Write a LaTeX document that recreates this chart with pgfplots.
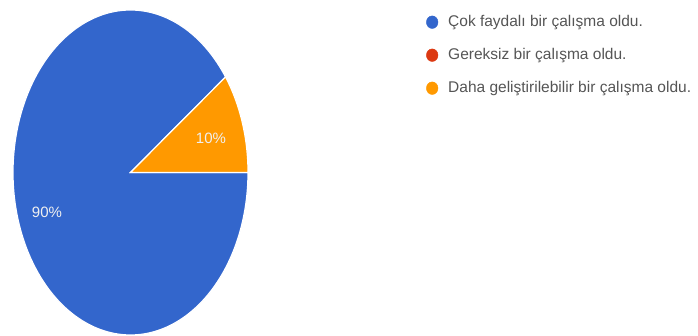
\documentclass[border=0pt]{standalone}
\usepackage{fontspec}
\setmainfont{Liberation Sans}
\usepackage{pgfplots}
\pgfplotsset{compat=1.18}
\definecolor{cblue}{HTML}{3366CC}
\definecolor{cred}{HTML}{DC3912}
\definecolor{corange}{HTML}{FF9900}
\definecolor{ctext}{HTML}{555555}
% shares in percent
\def\vA{90}% Çok faydalı
\def\vB{0}% Gereksiz
\def\vC{10}% Daha geliştirilebilir
\begin{document}
\begin{tikzpicture}
\begin{axis}[
  width=698pt, height=336pt, scale only axis,
  xmin=0, xmax=698, ymin=0, ymax=336,
  hide axis, clip=false,
  legend cell align=left,
  legend style={at={(axis cs:426,321)}, anchor=north west, draw=none, fill=none,
    font=\fontsize{15.5}{18}\selectfont\color{ctext},
    row sep=19pt, inner sep=0pt,
    nodes={inner sep=0pt, text height=11.5pt, text depth=2.5pt},
    /tikz/every odd column/.style={column sep=10pt}},
  legend image code/.code={\fill[#1] (6pt,0pt) ellipse [x radius=5.8pt, y radius=6.3pt];},
]
\addlegendimage{cblue}
\addlegendentry{Çok faydalı bir çalışma oldu.}
\addlegendimage{cred}
\addlegendentry{Gereksiz bir çalışma oldu.}
\addlegendimage{corange}
\addlegendentry{Daha geliştirilebilir bir çalışma oldu.}
% blue wedge
\addplot[fill=cblue, draw=white, line width=1.2pt, domain={3.6*\vC}:360, samples=200, variable=\t, forget plot]
  ({130.5+117.5*cos(t)},{163.5+162.5*sin(t)}) -- (axis cs:130.5,163.5) -- cycle;
% orange wedge
\addplot[fill=corange, draw=white, line width=1.2pt, domain=0:{3.6*\vC}, samples=40, variable=\t, forget plot]
  ({130.5+117.5*cos(t)},{163.5+162.5*sin(t)}) -- (axis cs:130.5,163.5) -- cycle;
\node[text=white!94!black, font=\fontsize{15}{17}\selectfont] at (axis cs:211,198) {10\%};
\node[text=white!94!black, font=\fontsize{15}{17}\selectfont] at (axis cs:47,124) {90\%};
\end{axis}
\pgfresetboundingbox
\useasboundingbox (0,0) rectangle (698pt,336pt);
\end{tikzpicture}
\end{document}
